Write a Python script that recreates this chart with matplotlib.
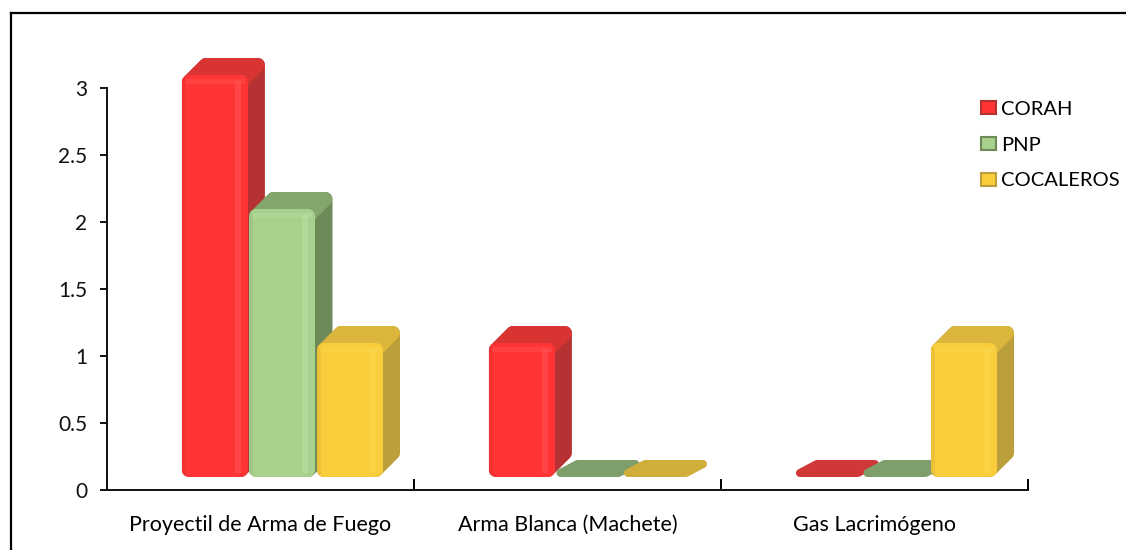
import numpy as np
import matplotlib

matplotlib.use("Agg")
import matplotlib.pyplot as plt
from matplotlib.patches import Polygon, Rectangle
from matplotlib.lines import Line2D

# --------------------------------------------------------------------- #
# Data
# --------------------------------------------------------------------- #
categories = ["Proyectil de Arma de Fuego", "Arma Blanca (Machete)", "Gas Lacrimógeno"]
series = ["CORAH", "PNP", "COCALEROS"]
corah = [3, 1, 0]
pnp = [2, 0, 0]
cocaleros = [1, 0, 1]
values = [corah, pnp, cocaleros]
yticks = [0, 0.5, 1, 1.5, 2, 2.5, 3]

# front / side / top colours per series
front_c = ["#FF3535", "#A9D18E", "#F9CC3B"]
side_c = ["#B63232", "#6E8A58", "#BC9E3A"]
top_c = ["#D83434", "#84A66C", "#DBB63C"]
flat_c = ["#D03838", "#7E9F6C", "#CFAE3C"]
hi_c = ["#FF5A5A", "#BDE3A2", "#FFDD55"]

plt.rcParams["font.family"] = ["Lato", "DejaVu Sans"]

DPI = 100
W_PX, H_PX = 1126, 550
fig = plt.figure(figsize=(W_PX / DPI, H_PX / DPI), dpi=DPI)

# axes placed in pixel terms
AX_L, AX_R, AX_T, AX_B = 107, 1028, 88, 490
ax = fig.add_axes([AX_L / W_PX, 1 - AX_B / H_PX,
                   (AX_R - AX_L) / W_PX, (AX_B - AX_T) / H_PX])
ax.set_xlim(0, 3)
ax.set_ylim(0, 3)

px_x = 3 / (AX_R - AX_L)  # data units per pixel
px_y = 3 / (AX_B - AX_T)

BAR_W = 66 * px_x
OFFS = [-0.256, -0.036, 0.184]
BASE = 13 * px_y
DX, DY = 17 * px_x, 17 * px_y
R = 7  # corner rounding in px
rx, ry = R * px_x, R * px_y
LW = 2 * R * 72 / DPI


def rpoly(pts, color, z, lw=LW):
    p = Polygon(pts, closed=True, facecolor=color, edgecolor=color,
                lw=lw, joinstyle="round", zorder=z, clip_on=False)
    ax.add_patch(p)


def draw_bar(x, v, k, z):
    b = BASE
    t = BASE + v
    w = BAR_W
    if v == 0:
        r2 = 4
        sx, sy = r2 * px_x, r2 * px_y
        pts = [(x + sx, b + sy), (x + w - sx, b + sy),
               (x + w - sx + DX, b + DY - sy), (x + sx + DX, b + DY - sy)]
        rpoly(pts, flat_c[k], z, lw=2 * r2 * 72 / DPI)
        return
    # silhouette (side)
    hexa = [(x + rx, b + ry), (x + w - rx, b + ry),
            (x + w - rx + DX, b + ry + DY), (x + w - rx + DX, t - ry + DY),
            (x + rx + DX, t - ry + DY), (x + rx, t - ry)]
    rpoly(hexa, side_c[k], z)
    # top face
    topf = [(x + rx, t - ry), (x + w - rx, t - ry),
            (x + w - rx + DX, t - ry + DY), (x + rx + DX, t - ry + DY)]
    rpoly(topf, top_c[k], z + 0.1)
    # front face
    fr = [(x + rx, b + ry), (x + w - rx, b + ry),
          (x + w - rx, t - ry), (x + rx, t - ry)]
    rpoly(fr, front_c[k], z + 0.2)
    # bevel highlights
    ax.add_patch(Rectangle((x + 0.80 * w, b + 4 * px_y), 0.09 * w,
                           v - 10 * px_y, facecolor=hi_c[k], alpha=0.45,
                           lw=0, zorder=z + 0.3, clip_on=False))
    ax.add_patch(Rectangle((x + 3 * px_x, t - 9 * px_y), w - 6 * px_x,
                           5 * px_y, facecolor=hi_c[k], alpha=0.35,
                           lw=0, zorder=z + 0.3, clip_on=False))
    ax.add_patch(Rectangle((x, b + 2 * px_y), 4 * px_x, v - 6 * px_y,
                           facecolor="black", alpha=0.05, lw=0,
                           zorder=z + 0.3, clip_on=False))


centers = np.arange(len(categories)) + 0.5
for i, c in enumerate(centers):
    for k in range(len(series)):
        draw_bar(c + OFFS[k], values[k][i], k, 2 + i * 3 + k)

# axes styling
for s in ["top", "right"]:
    ax.spines[s].set_visible(False)
for s in ["left", "bottom"]:
    ax.spines[s].set_linewidth(1.4)
    ax.spines[s].set_color("#111111")

ax.set_yticks(yticks)
ax.set_yticklabels([f"{t:g}" for t in yticks])
ax.tick_params(axis="y", direction="out", length=5, width=1.4,
               pad=9, labelsize=15, colors="#111111")
ax.set_xticks([0, 1, 2, 3])
ax.set_xticklabels([])
ax.tick_params(axis="x", which="major", direction="in", length=8, width=1.4)
ax.set_xticks(centers, minor=True)
ax.set_xticklabels(categories, minor=True)
ax.tick_params(axis="x", which="minor", length=0, pad=18, labelsize=15.5)

# legend
handles = [Rectangle((0, 0), 1, 1, facecolor=front_c[k], edgecolor=side_c[k],
                     lw=1.5) for k in range(len(series))]
fig.legend(handles, series, loc="upper left",
           bbox_to_anchor=(981 / W_PX, 1 - 101 / H_PX), frameon=False,
           fontsize=14.5, handlelength=0.72, handleheight=0.62,
           handletextpad=0.28, labelspacing=0.93, borderpad=0,
           borderaxespad=0)

# outer frame (partly out of view)
fig.add_artist(Line2D([10.5 / W_PX, 10.5 / W_PX], [0, 1 - 13 / H_PX],
                      transform=fig.transFigure, color="black", lw=1.6))
fig.add_artist(Line2D([10.5 / W_PX, 1], [1 - 13 / H_PX, 1 - 13 / H_PX],
                      transform=fig.transFigure, color="black", lw=1.6))

fig.savefig("out.png", dpi=DPI)
